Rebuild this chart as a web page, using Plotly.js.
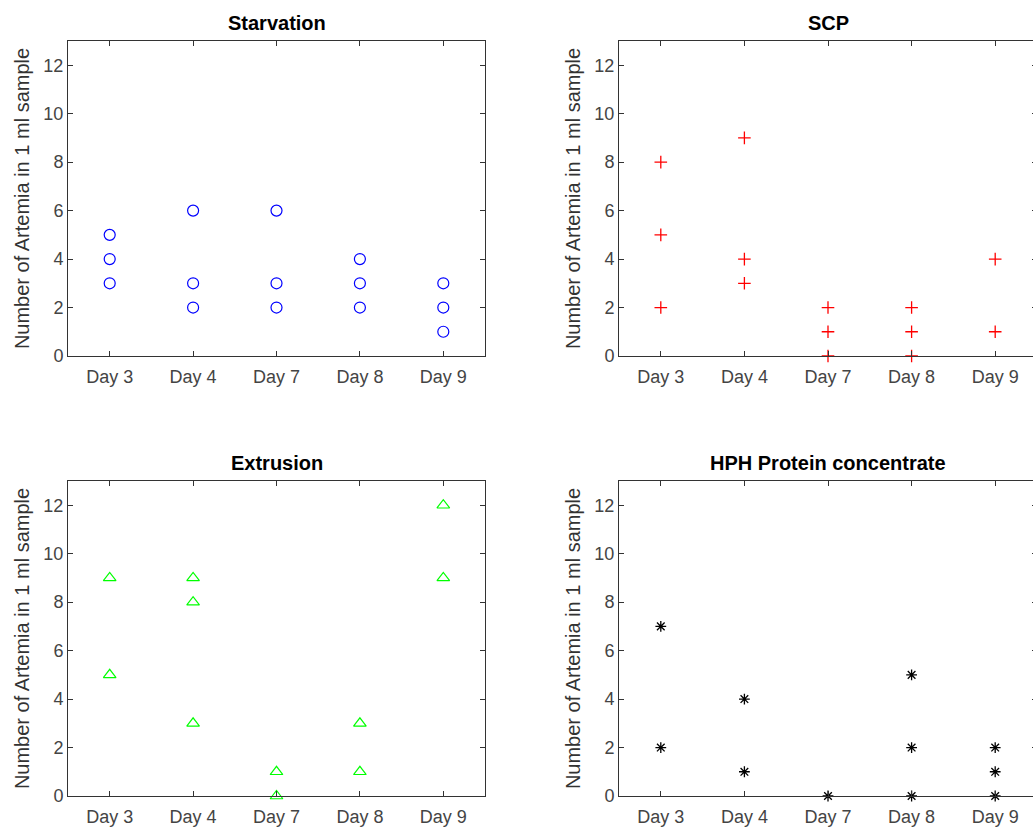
<!DOCTYPE html>
<html>
<head>
<meta charset="utf-8">
<script src="https://cdn.plot.ly/plotly-3.0.1.min.js"></script>
<style>
html, body { margin: 0; padding: 0; overflow: hidden; background: #fff; }
#chart { width: 1040px; height: 827px; }
</style>
</head>
<body>
<div id="chart"></div>
<script>
// ---- data ----
const days = ['Day 3', 'Day 4', 'Day 7', 'Day 8', 'Day 9'];
const yTicks = [0, 2, 4, 6, 8, 10, 12];
const yLabel = 'Number of Artemia in 1 ml sample';
const panelTitles = ['Starvation', 'SCP', 'Extrusion', 'HPH Protein concentrate'];

const starvationX = ['Day 3','Day 3','Day 3','Day 4','Day 4','Day 4','Day 7','Day 7','Day 7','Day 8','Day 8','Day 8','Day 9','Day 9','Day 9'];
const starvationY = [3, 4, 5, 2, 3, 6, 2, 3, 6, 2, 3, 4, 1, 2, 3];

const scpX = ['Day 3','Day 3','Day 3','Day 4','Day 4','Day 4','Day 7','Day 7','Day 7','Day 8','Day 8','Day 8','Day 9','Day 9'];
const scpY = [2, 5, 8, 3, 4, 9, 0, 1, 2, 0, 1, 2, 1, 4];

const extrusionX = ['Day 3','Day 3','Day 4','Day 4','Day 4','Day 7','Day 7','Day 8','Day 8','Day 9','Day 9'];
const extrusionY = [5, 9, 3, 8, 9, 0, 1, 1, 3, 9, 12];

const hphX = ['Day 3','Day 3','Day 4','Day 4','Day 7','Day 8','Day 8','Day 8','Day 9','Day 9','Day 9'];
const hphY = [2, 7, 1, 4, 0, 0, 2, 5, 0, 1, 2];

// ---- styling ----
const W = 1040, H = 827;
const FONT = 'Liberation Sans, Arial, Helvetica, sans-serif';
const AXCOL = '#333333';
const TICKCOL = '#444444';

function px2x(p) { return p / W; }
function px2y(p) { return 1 - p / H; }

const colL = [px2x(68), px2x(485)];
const colR = [px2x(619), px2x(1037)];
const rowT = [px2y(356), px2y(41)];
const rowB = [px2y(796), px2y(481)];

function xaxis(domain, anchor) {
  return {
    domain: domain, anchor: anchor, type: 'category',
    categoryorder: 'array', categoryarray: days,
    range: [-0.5, 4.5],
    showline: true, linecolor: AXCOL, linewidth: 1, mirror: 'ticks',
    ticks: 'inside', ticklen: 5, tickcolor: AXCOL, tickwidth: 1,
    ticklabelstandoff: 4,
    showgrid: false, zeroline: false,
    tickfont: { family: FONT, size: 18, color: TICKCOL },
    fixedrange: true
  };
}
function yaxis(domain, anchor) {
  return {
    domain: domain, anchor: anchor,
    range: [0, 13], tickvals: yTicks, ticktext: yTicks.map(String),
    showline: true, linecolor: AXCOL, linewidth: 1, mirror: 'ticks',
    ticks: 'inside', ticklen: 5, tickcolor: AXCOL, tickwidth: 1,
    showgrid: false, zeroline: false,
    tickfont: { family: FONT, size: 18, color: TICKCOL },
    title: { text: yLabel, font: { family: FONT, size: 20, color: '#333333' }, standoff: 8 },
    fixedrange: true
  };
}

const traces = [
  { x: starvationX, y: starvationY, xaxis: 'x', yaxis: 'y', type: 'scatter', mode: 'markers',
    cliponaxis: false, name: panelTitles[0],
    marker: { symbol: 'circle-open', size: 11, color: '#0000ff', line: { width: 1.2, color: '#0000ff' } } },
  { x: scpX, y: scpY, xaxis: 'x2', yaxis: 'y2', type: 'scatter', mode: 'markers',
    cliponaxis: false, name: panelTitles[1],
    marker: { symbol: 'cross-thin-open', size: 9, color: '#ff0000', line: { width: 1.3, color: '#ff0000' } } },
  { x: extrusionX, y: extrusionY, xaxis: 'x3', yaxis: 'y3', type: 'scatter', mode: 'markers',
    cliponaxis: false, name: panelTitles[2],
    marker: { symbol: 'triangle-up-open', size: 11, color: '#00ff00', line: { width: 1.2, color: '#00ff00' } } },
  { x: hphX, y: hphY, xaxis: 'x4', yaxis: 'y4', type: 'scatter', mode: 'markers',
    cliponaxis: false, name: panelTitles[3],
    marker: { symbol: 'asterisk-open', size: 9, color: '#000000', line: { width: 1.3, color: '#000000' } } }
];

function titleAnn(text, xpx, ypx) {
  return {
    text: '<b>' + text + '</b>', xref: 'paper', yref: 'paper',
    x: px2x(xpx), y: px2y(ypx), xanchor: 'center', yanchor: 'middle',
    showarrow: false, font: { family: FONT, size: 20, color: '#000000' }
  };
}

const layout = {
  width: W, height: H,
  margin: { l: 0, r: 0, t: 0, b: 0, pad: 0 },
  paper_bgcolor: '#ffffff', plot_bgcolor: '#ffffff',
  showlegend: false,
  xaxis: xaxis(colL, 'y'), yaxis: yaxis(rowT, 'x'),
  xaxis2: xaxis(colR, 'y2'), yaxis2: yaxis(rowT, 'x2'),
  xaxis3: xaxis(colL, 'y3'), yaxis3: yaxis(rowB, 'x3'),
  xaxis4: xaxis(colR, 'y4'), yaxis4: yaxis(rowB, 'x4'),
  annotations: [
    titleAnn(panelTitles[0], 277, 23),
    titleAnn(panelTitles[1], 828, 23),
    titleAnn(panelTitles[2], 277, 463),
    titleAnn(panelTitles[3], 828, 463)
  ]
};

Plotly.newPlot('chart', traces, layout, { displayModeBar: false, staticPlot: true });
</script>
</body>
</html>
